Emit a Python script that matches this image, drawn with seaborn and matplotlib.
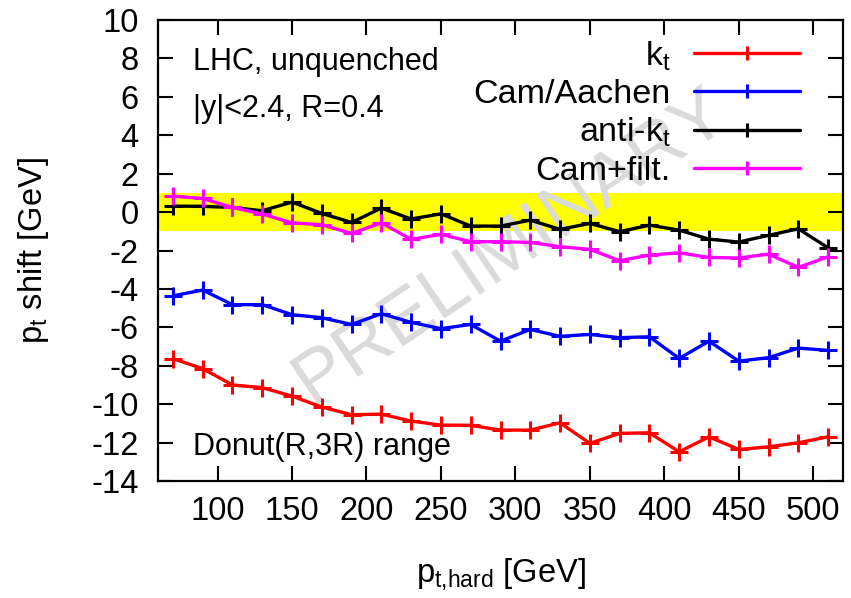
import numpy as np
import pandas as pd
import matplotlib
matplotlib.use('Agg')
import matplotlib.pyplot as plt
import seaborn as sns

# p_t,hard bins (GeV)
pt_hard = [70, 90, 110, 130, 150, 170, 190, 210, 230, 250, 270, 290,
           310, 330, 350, 370, 390, 410, 430, 450, 470, 490, 510]

# p_t shift (GeV) per algorithm
kt = [-7.63, -8.15, -9.00, -9.14, -9.58, -10.15, -10.55, -10.52, -10.88, -11.09, -11.10, -11.35,
      -11.35, -10.97, -12.04, -11.52, -11.49, -12.48, -11.70, -12.36, -12.22, -12.01, -11.70]
cam_aachen = [-4.36, -4.06, -4.82, -4.82, -5.34, -5.50, -5.85, -5.29, -5.74, -6.07, -5.85, -6.72,
              -6.11, -6.47, -6.37, -6.54, -6.49, -7.62, -6.72, -7.76, -7.58, -7.08, -7.20]
anti_kt = [0.31, 0.30, 0.24, 0.07, 0.52, -0.07, -0.54, 0.21, -0.36, -0.09, -0.73, -0.73,
           -0.42, -0.90, -0.59, -1.02, -0.68, -0.94, -1.41, -1.56, -1.21, -0.87, -1.86]
cam_filt = [0.83, 0.71, 0.24, -0.10, -0.56, -0.66, -1.11, -0.56, -1.42, -1.16, -1.54, -1.54,
            -1.58, -1.80, -1.94, -2.53, -2.24, -2.12, -2.36, -2.39, -2.19, -2.88, -2.33]

algorithms = ['k$_t$', 'Cam/Aachen', 'anti-k$_t$', 'Cam+filt.']
colors = ['#ff0000', '#0000ff', '#000000', '#ff00ff']

df = pd.DataFrame({
    'pt': pt_hard * 4,
    'shift': kt + cam_aachen + anti_kt + cam_filt,
    'alg': np.repeat(algorithms, len(pt_hard)),
})

sns.set_style('ticks')
plt.rcParams['font.family'] = ['Liberation Sans', 'DejaVu Sans']
plt.rcParams['mathtext.default'] = 'regular'
plt.rcParams['axes.unicode_minus'] = False
for key in ['text.color', 'axes.labelcolor', 'xtick.color', 'ytick.color', 'axes.edgecolor']:
    plt.rcParams[key] = 'black'

fig = plt.figure(figsize=(8.51, 5.98), dpi=100)
ax = fig.add_axes([158 / 851, 1 - 481 / 598, 685 / 851, 461 / 598])

# +-1 GeV band
ax.axhspan(-1, 1, color='#ffff00', zorder=0, lw=0)

ax.text(0.515, 0.51, 'PRELIMINARY', transform=ax.transAxes, rotation=34,
        ha='center', va='center', fontsize=54, color='#dadada', zorder=1)

sns.lineplot(data=df, x='pt', y='shift', hue='alg', hue_order=algorithms,
             palette=colors, marker='+', markersize=13, markeredgewidth=2.2,
             linewidth=2.4, errorbar=None, legend=False, ax=ax, zorder=3)
for line in ax.lines:
    line.set_markeredgecolor(line.get_color())

ax.set_xlim(60, 520)
ax.set_ylim(-14, 10)
ax.set_xticks(range(100, 501, 50))
ax.set_yticks(range(-14, 11, 2))
ax.tick_params(direction='in', length=11, width=1.5, labelsize=23.5,
               top=True, right=True)
ax.tick_params(axis='y', pad=14)
ax.tick_params(axis='x', pad=11)
for s in ax.spines.values():
    s.set_linewidth(1.6)
    s.set_visible(True)

ax.set_xlabel('p$_{t{,}hard}$ [GeV]', fontsize=23.5, labelpad=21)
ax.set_ylabel('p$_t$ shift [GeV]', fontsize=23.5, labelpad=29)

ax.text(0.051, 0.8915, 'LHC, unquenched', transform=ax.transAxes, fontsize=22, va='baseline')
ax.text(0.051, 0.79, '|y|<2.4, R=0.4', transform=ax.transAxes, fontsize=22, va='baseline')
ax.text(0.051, 0.056, 'Donut(R,3R) range', transform=ax.transAxes, fontsize=22, va='baseline')

leg = ax.legend(ax.lines[:4], algorithms, loc='upper right',
                bbox_to_anchor=(0.937, 0.958), frameon=False, markerfirst=False,
                fontsize=24.5, handlelength=3.1, handletextpad=0.7,
                labelspacing=0.18, borderpad=0, borderaxespad=0)
for h in leg.legend_handles:
    h.set_markersize(10)

fig.savefig('out.png', dpi=100)
